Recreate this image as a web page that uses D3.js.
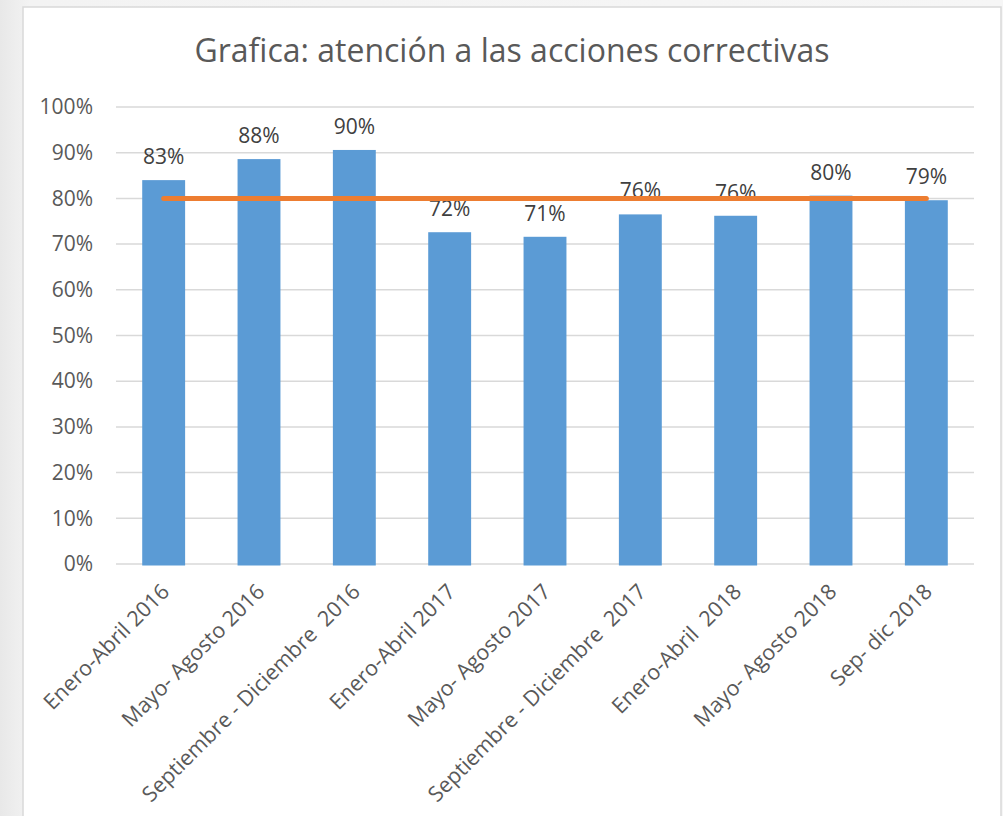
<!DOCTYPE html>
<html>
<head>
<meta charset="utf-8">
<script src="https://cdn.jsdelivr.net/npm/d3@7"></script>
<style>
  html, body { margin: 0; padding: 0; background: #f2f2f2; }
  svg { display: block; font-family: "Open Sans", "Noto Sans", sans-serif; }
</style>
</head>
<body>
<div id="chart"></div>
<script>
// Categories (periods)
const categories = [
    'Enero-Abril 2016',
    'Mayo- Agosto 2016',
    'Septiembre - Diciembre  2016',
    'Enero-Abril 2017',
    'Mayo- Agosto 2017',
    'Septiembre - Diciembre  2017',
    'Enero-Abril  2018',
    'Mayo- Agosto 2018',
    'Sep- dic 2018'
];

// Bar values and their data labels
const values = [0.84, 0.886, 0.906, 0.726, 0.716, 0.765, 0.762, 0.806, 0.796];
const valueLabels = ['83%', '88%', '90%', '72%', '71%', '76%', '76%', '80%', '79%'];

// Target line (meta)
const target = [0.8, 0.8, 0.8, 0.8, 0.8, 0.8, 0.8, 0.8, 0.8];

// Y axis ticks
const yTicks = [0, 0.1, 0.2, 0.3, 0.4, 0.5, 0.6, 0.7, 0.8, 0.9, 1.0];

const title = 'Grafica: atención a las acciones correctivas';

function renderChart() {
    const width = 1003, height = 816;

    const svg = d3.select('#chart')
        .append('svg')
        .attr('width', width)
        .attr('height', height);

    // background outside the chart
    const defs = svg.append('defs');
    const grad = defs.append('linearGradient')
        .attr('id', 'bg')
        .attr('x1', '0').attr('x2', '1').attr('y1', '0').attr('y2', '0');
    grad.append('stop').attr('offset', '0').attr('stop-color', '#e8e8e8');
    grad.append('stop').attr('offset', '0.03').attr('stop-color', '#f3f3f3');
    grad.append('stop').attr('offset', '1').attr('stop-color', '#f6f6f6');

    svg.append('rect')
        .attr('width', width)
        .attr('height', height)
        .attr('fill', 'url(#bg)');

    // chart area
    svg.append('rect')
        .attr('x', 23)
        .attr('y', 7)
        .attr('width', 978)
        .attr('height', 830)
        .attr('fill', '#ffffff')
        .attr('stroke', '#d9d9d9')
        .attr('stroke-width', 1.5);

    const x = d3.scaleBand()
        .domain(categories)
        .range([116, 974])
        .paddingInner(0.55)
        .paddingOuter(0.275);

    const y = d3.scaleLinear()
        .domain([0, 1])
        .range([564, 107]);

    // gridlines
    svg.append('g')
        .selectAll('line')
        .data(yTicks)
        .enter().append('line')
        .attr('x1', 116)
        .attr('x2', 974)
        .attr('y1', d => y(d))
        .attr('y2', d => y(d))
        .attr('stroke', '#d9d9d9')
        .attr('stroke-width', 1.5);

    // y axis labels (no axis line)
    const yAxis = svg.append('g')
        .attr('transform', 'translate(104,0)')
        .call(d3.axisLeft(y).tickValues(yTicks).tickFormat(d3.format('.0%')).tickSize(0).tickPadding(11));
    yAxis.select('.domain').remove();
    yAxis.selectAll('text')
        .attr('font-size', 21)
        .attr('font-family', '"Open Sans", sans-serif')
        .attr('fill', '#595959');

    // bars
    svg.append('g')
        .selectAll('.bar')
        .data(values)
        .enter().append('rect')
        .attr('class', 'bar')
        .attr('x', (d, i) => x(categories[i]))
        .attr('y', d => y(d))
        .attr('width', x.bandwidth())
        .attr('height', d => y(0) - y(d) + 1.5)
        .attr('fill', '#5b9bd5');

    // data labels
    svg.append('g')
        .selectAll('text')
        .data(values)
        .enter().append('text')
        .attr('x', (d, i) => x(categories[i]) + x.bandwidth() / 2)
        .attr('y', d => y(d) - 16)
        .attr('text-anchor', 'middle')
        .attr('font-size', 21)
        .attr('fill', '#404040')
        .text((d, i) => valueLabels[i]);

    // target line
    const line = d3.line()
        .x((d, i) => x(categories[i]) + x.bandwidth() / 2)
        .y(d => y(d));

    svg.append('path')
        .datum(target)
        .attr('d', line)
        .attr('fill', 'none')
        .attr('stroke', '#ed7d31')
        .attr('stroke-width', 5)
        .attr('stroke-linecap', 'round');

    // category labels, rotated
    svg.append('g')
        .selectAll('text')
        .data(categories)
        .enter().append('text')
        .attr('transform', d => `translate(${x(d) + x.bandwidth() / 2 + 7},${593}) rotate(-45)`)
        .attr('text-anchor', 'end')
        .attr('font-size', 21.5)
        .attr('fill', '#595959')
        .style('white-space', 'pre')
        .text(d => d);

    // title
    svg.append('text')
        .attr('x', 512)
        .attr('y', 62)
        .attr('text-anchor', 'middle')
        .attr('font-size', 32)
        .attr('fill', '#595959')
        .text(title);
}

renderChart();
</script>
</body>
</html>
